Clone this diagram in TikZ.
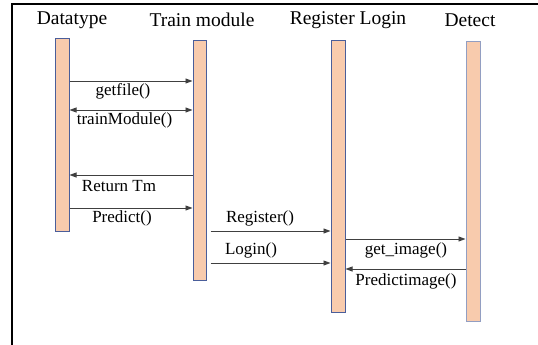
\documentclass[tikz,border=0pt]{standalone}
\usepackage{fontspec}
\setmainfont{Liberation Serif}
\usetikzlibrary{arrows.meta}
\definecolor{barfill}{HTML}{F8CBAD}
\definecolor{barline}{HTML}{4A5E9A}
\definecolor{msgline}{HTML}{404040}
\tikzset{
  bar/.style={draw=barline, fill=barfill, line width=1pt, minimum width=14pt, inner sep=0pt, anchor=north},
  title/.style={font=\fontsize{19.5}{22}\selectfont, inner sep=0pt},
  lbl/.style={font=\fontsize{17}{20}\selectfont, inner sep=0pt},
  msg/.style={draw=msgline, line width=0.9pt, -{Triangle[length=7pt,width=5pt]}},
  msgb/.style={draw=msgline, line width=0.9pt, {Triangle[length=7pt,width=5pt]}-{Triangle[length=7pt,width=5pt]}},
}
\begin{document}
\begin{tikzpicture}[x=1pt,y=-1pt]
\useasboundingbox (0,0) rectangle (538,345);
\draw[line width=2pt] (12,345) -- (12,4) -- (538,4);
% lifelines
\node[bar, minimum height=193pt] (dt) at (62,38) {};
\node[bar, minimum width=13pt, minimum height=240pt] (tm) at (199.5,40) {};
\node[bar, minimum height=272pt] (rl) at (338,40) {};
\node[bar, minimum height=280pt, draw=barline!60] (de) at (473,41) {};
% titles
\node[title] (t1) at (72,20) {Datatype};
\node[title] (t2) at (202,20) {Train module};
\node[title] (t3) at (348,20) {Register Login};
\node[title] (t4) at (470,20) {Detect};
% message heights
\coordinate (m1) at (0,81);
\coordinate (m2) at (0,110);
\coordinate (m3) at (0,175);
\coordinate (m4) at (0,208);
\coordinate (m5) at (0,231);
\coordinate (m6) at (0,263);
\coordinate (m7) at (0,239);
\coordinate (m8) at (0,269);
% messages
\draw[msg] (dt.east |- m1) -- (tm.west |- m1);
\draw[msgb] (dt.east |- m2) -- (tm.west |- m2);
\draw[msg] (tm.west |- m3) -- (dt.east |- m3);
\draw[msg] (dt.east |- m4) -- (tm.west |- m4);
\draw[msg, shorten <=4pt] (tm.east |- m5) -- (rl.west |- m5);
\draw[msg, shorten <=4pt] (tm.east |- m6) -- (rl.west |- m6);
\draw[msg] (rl.east |- m7) -- (de.west |- m7);
\draw[msg] (de.west |- m8) -- (rl.east |- m8);
% labels
\node[lbl] (l1) at (123,91) {getfile()};
\node[lbl] (l2) at (124.5,120) {trainModule()};
\node[lbl] (l3) at (119,186) {Return Tm};
\node[lbl] (l4) at (122,218) {Predict()};
\node[lbl] (l5) at (260,218) {Register()};
\node[lbl] (l6) at (251,250) {Login()};
\node[lbl] (l7) at (406,250) {get\_image()};
\node[lbl] (l8) at (406,281) {Predictimage()};
\end{tikzpicture}
\end{document}
